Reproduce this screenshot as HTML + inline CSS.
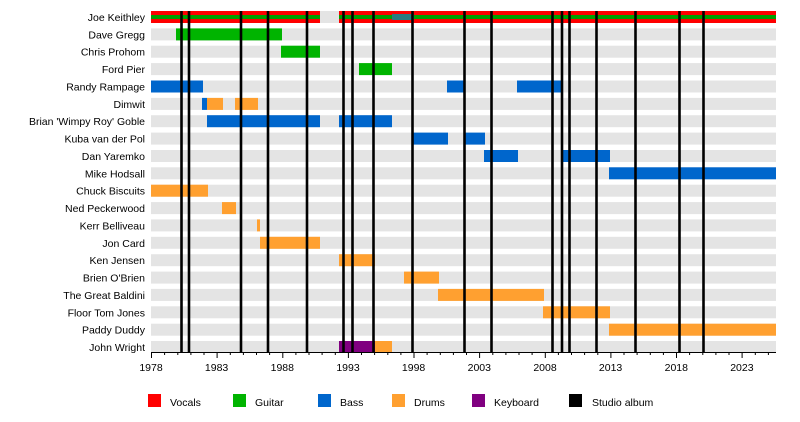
<!DOCTYPE html>
<html><head><meta charset="utf-8"><style>
html,body{margin:0;padding:0;background:#fff;}
svg{display:block;font-family:"Liberation Sans",sans-serif;}
</style></head><body>
<svg width="800" height="422" viewBox="0 0 800 422" xmlns="http://www.w3.org/2000/svg">
<g fill="#e4e4e4">
<rect x="151" y="11" width="625" height="12"/><rect x="151" y="28.4" width="625" height="12"/><rect x="151" y="45.7" width="625" height="12"/><rect x="151" y="63.1" width="625" height="12"/><rect x="151" y="80.5" width="625" height="12"/><rect x="151" y="97.9" width="625" height="12"/><rect x="151" y="115.2" width="625" height="12"/><rect x="151" y="132.6" width="625" height="12"/><rect x="151" y="150" width="625" height="12"/><rect x="151" y="167.3" width="625" height="12"/><rect x="151" y="184.7" width="625" height="12"/><rect x="151" y="202.1" width="625" height="12"/><rect x="151" y="219.4" width="625" height="12"/><rect x="151" y="236.8" width="625" height="12"/><rect x="151" y="254.2" width="625" height="12"/><rect x="151" y="271.6" width="625" height="12"/><rect x="151" y="288.9" width="625" height="12"/><rect x="151" y="306.3" width="625" height="12"/><rect x="151" y="323.7" width="625" height="12"/><rect x="151" y="341" width="625" height="12"/>
</g>
<rect x="151" y="11" width="169" height="12" fill="#ff0000"/><rect x="339" y="11" width="437" height="12" fill="#ff0000"/>
<rect x="151" y="15" width="169" height="4" fill="#00a000"/><rect x="339" y="15" width="437" height="4" fill="#00a000"/>
<rect x="392" y="14" width="22" height="6" fill="#2a7a80"/>
<g>
<rect x="176" y="28.4" width="106" height="12" fill="#00b400"/>
<rect x="281" y="45.7" width="39" height="12" fill="#00b400"/>
<rect x="359" y="63.1" width="33" height="12" fill="#00b400"/>
<g fill="#0066cc">
<rect x="151" y="80.5" width="52" height="12"/><rect x="447" y="80.5" width="18" height="12"/><rect x="517" y="80.5" width="45" height="12"/>
<rect x="202" y="97.9" width="5" height="12"/>
<rect x="207" y="115.2" width="113" height="12"/><rect x="339" y="115.2" width="53" height="12"/>
<rect x="412" y="132.6" width="36" height="12"/><rect x="464" y="132.6" width="21" height="12"/>
<rect x="484" y="150" width="34" height="12"/><rect x="562" y="150" width="48" height="12"/>
<rect x="609" y="167.3" width="167" height="12"/>
</g>
<g fill="#ffa030">
<rect x="207" y="97.9" width="16" height="12"/><rect x="235" y="97.9" width="23" height="12"/>
<rect x="151" y="184.7" width="57" height="12"/>
<rect x="222" y="202.1" width="14" height="12"/>
<rect x="257" y="219.4" width="3" height="12"/>
<rect x="260" y="236.8" width="60" height="12"/>
<rect x="339" y="254.2" width="36" height="12"/>
<rect x="404" y="271.6" width="35" height="12"/>
<rect x="438" y="288.9" width="106" height="12"/>
<rect x="543" y="306.3" width="67" height="12"/>
<rect x="609" y="323.7" width="167" height="12"/>
<rect x="375" y="341" width="17" height="12"/>
</g>
<rect x="339" y="341" width="36" height="12" fill="#800080"/>
</g>
<g stroke="#000" stroke-width="2.6">
<line x1="181.5" y1="11" x2="181.5" y2="352"/><line x1="189" y1="11" x2="189" y2="352"/><line x1="241" y1="11" x2="241" y2="352"/><line x1="268" y1="11" x2="268" y2="352"/><line x1="307" y1="11" x2="307" y2="352"/><line x1="343.5" y1="11" x2="343.5" y2="352"/><line x1="352.5" y1="11" x2="352.5" y2="352"/><line x1="373.5" y1="11" x2="373.5" y2="352"/><line x1="412.5" y1="11" x2="412.5" y2="352"/><line x1="464.5" y1="11" x2="464.5" y2="352"/><line x1="491.5" y1="11" x2="491.5" y2="352"/><line x1="552.5" y1="11" x2="552.5" y2="352"/><line x1="562" y1="11" x2="562" y2="352"/><line x1="569.5" y1="11" x2="569.5" y2="352"/><line x1="596.5" y1="11" x2="596.5" y2="352"/><line x1="635.5" y1="11" x2="635.5" y2="352"/><line x1="679.5" y1="11" x2="679.5" y2="352"/><line x1="703.5" y1="11" x2="703.5" y2="352"/>
</g>
<line x1="151" y1="352.5" x2="776" y2="352.5" stroke="#000" stroke-width="1"/>
<g font-size="10.5" fill="#000" text-anchor="middle">
<text x="151" y="371">1978</text><text x="216.6" y="371">1983</text><text x="282.3" y="371">1988</text><text x="348" y="371">1993</text><text x="413.6" y="371">1998</text><text x="479.3" y="371">2003</text><text x="545" y="371">2008</text><text x="610.6" y="371">2013</text><text x="676.3" y="371">2018</text><text x="741.9" y="371">2023</text>
</g>
<g font-size="10.5" fill="#000" text-anchor="end">
<text x="145" y="21">Joe Keithley</text><text x="145" y="38.4">Dave Gregg</text><text x="145" y="55.7">Chris Prohom</text><text x="145" y="73.1">Ford Pier</text><text x="145" y="90.5">Randy Rampage</text><text x="145" y="107.9">Dimwit</text><text x="145" y="125.2">Brian 'Wimpy Roy' Goble</text><text x="145" y="142.6">Kuba van der Pol</text><text x="145" y="160">Dan Yaremko</text><text x="145" y="177.3">Mike Hodsall</text><text x="145" y="194.7">Chuck Biscuits</text><text x="145" y="212.1">Ned Peckerwood</text><text x="145" y="229.4">Kerr Belliveau</text><text x="145" y="246.8">Jon Card</text><text x="145" y="264.2">Ken Jensen</text><text x="145" y="281.6">Brien O'Brien</text><text x="145" y="298.9">The Great Baldini</text><text x="145" y="316.3">Floor Tom Jones</text><text x="145" y="333.7">Paddy Duddy</text><text x="145" y="351">John Wright</text>
</g>
<g font-size="10.5" fill="#000">
<rect x="148" y="394" width="13" height="13" fill="#ff0000"/><text x="170" y="406">Vocals</text>
<rect x="233" y="394" width="13" height="13" fill="#00b400"/><text x="255" y="406">Guitar</text>
<rect x="318" y="394" width="13" height="13" fill="#0066cc"/><text x="340" y="406">Bass</text>
<rect x="392" y="394" width="13" height="13" fill="#ffa030"/><text x="414" y="406">Drums</text>
<rect x="472" y="394" width="13" height="13" fill="#800080"/><text x="494" y="406">Keyboard</text>
<rect x="569" y="394" width="13" height="13" fill="#000"/><text x="592" y="406">Studio album</text>
</g>
<path stroke="#000" stroke-width="1" fill="none" d="M151.5 352v6M164.6 352v3M177.8 352v3M190.9 352v3M204 352v3M217.1 352v6M230.3 352v3M243.4 352v3M256.5 352v3M269.6 352v3M282.8 352v6M295.9 352v3M309 352v3M322.1 352v3M335.3 352v3M348.4 352v6M361.5 352v3M374.6 352v3M387.8 352v3M400.9 352v3M414 352v6M427.1 352v3M440.3 352v3M453.4 352v3M466.5 352v3M479.6 352v6M492.8 352v3M505.9 352v3M519 352v3M532.1 352v3M545.3 352v6M558.4 352v3M571.5 352v3M584.6 352v3M597.8 352v3M610.9 352v6M624 352v3M637.1 352v3M650.3 352v3M663.4 352v3M676.5 352v6M689.6 352v3M702.8 352v3M715.9 352v3M729 352v3M742.1 352v6M755.3 352v3M768.4 352v3"/>
</svg>
</body></html>
